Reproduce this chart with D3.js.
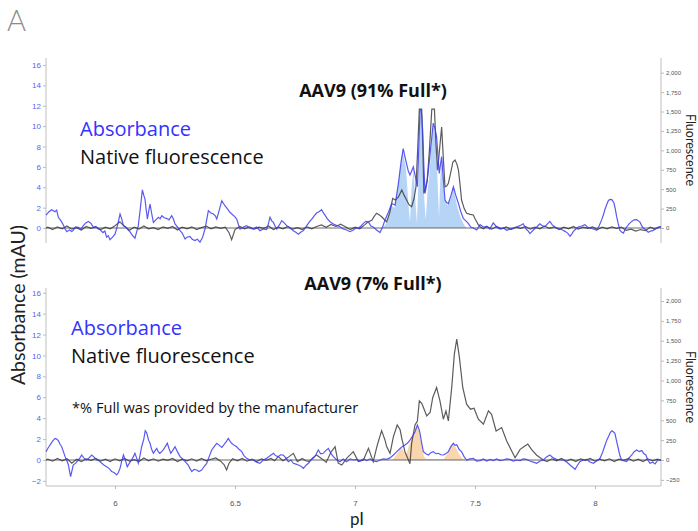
<!DOCTYPE html>
<html>
<head>
<meta charset="utf-8">
<script src="https://cdn.jsdelivr.net/npm/d3@7/dist/d3.min.js"></script>
<style>
  body { margin: 0; background: #fff; }
  svg text { font-family: "Liberation Sans", Arial, sans-serif; }
</style>
</head>
<body>
<div class="chart"></div>
<script>
// ---- data: [pI, value] pairs ----
// top panel, absorbance (mAU)
const topAbs = [[5.7125,1.27],[5.725,1.6],[5.736,1.8],[5.75,1.6],[5.757,1.75],[5.764,1.05],[5.775,0.7],[5.785,0.3],[5.792,-0.1],[5.799,-0.36],[5.81,-0.2],[5.82,-0.35],[5.826,-0.23],[5.835,0.1],[5.847,0.07],[5.857,-0.15],[5.868,0.23],[5.878,0.5],[5.889,0.65],[5.9,0.45],[5.91,0.07],[5.92,0.15],[5.93,-0.1],[5.937,-0.16],[5.95,-0.45],[5.958,-0.3],[5.965,-0.9],[5.972,-0.75],[5.979,-1.14],[5.99,-0.9],[6.0,-0.6],[6.01,0.2],[6.021,1.37],[6.028,0.9],[6.035,0.23],[6.045,0.1],[6.055,-0.2],[6.062,-0.36],[6.072,-0.7],[6.083,-1.0],[6.09,-0.4],[6.097,0.23],[6.105,1.8],[6.114,3.75],[6.12,3.2],[6.125,2.84],[6.13,1.8],[6.135,0.88],[6.14,1.6],[6.146,2.35],[6.153,1.4],[6.16,0.55],[6.17,0.8],[6.181,1.05],[6.188,0.9],[6.195,1.2],[6.205,1.0],[6.215,0.95],[6.225,0.8],[6.236,1.2],[6.243,0.9],[6.25,0.4],[6.26,0.1],[6.271,-0.26],[6.28,-0.5],[6.292,-1.08],[6.3,-0.9],[6.312,-0.82],[6.322,-1.1],[6.333,-1.24],[6.343,-1.1],[6.354,-1.4],[6.365,-0.9],[6.375,-0.1],[6.382,0.8],[6.389,1.7],[6.398,1.5],[6.41,1.37],[6.418,1.2],[6.424,0.88],[6.435,1.8],[6.445,2.68],[6.452,2.4],[6.458,2.19],[6.468,1.9],[6.479,1.54],[6.49,1.3],[6.5,1.1],[6.507,0.88],[6.515,0.3],[6.521,-0.1],[6.535,0.1],[6.549,0.23],[6.56,0.0],[6.576,-0.1],[6.59,0.1],[6.604,-0.26],[6.618,-0.1],[6.632,-0.16],[6.64,0.5],[6.646,1.05],[6.653,0.7],[6.66,0.55],[6.667,0.2],[6.674,-0.1],[6.685,0.3],[6.695,0.72],[6.705,0.5],[6.715,0.23],[6.73,0.0],[6.743,-0.26],[6.755,-0.45],[6.764,-0.62],[6.775,-0.4],[6.785,-0.26],[6.792,0.0],[6.799,0.23],[6.81,0.6],[6.82,0.88],[6.83,1.2],[6.84,1.47],[6.85,1.6],[6.861,1.8],[6.868,1.5],[6.875,1.27],[6.885,0.9],[6.896,0.62],[6.91,0.4],[6.924,0.23],[6.938,0.13],[6.951,-0.1],[6.965,-0.2],[6.979,-0.36],[6.993,-0.2],[7.004,0.0],[7.014,-0.03],[7.025,0.2],[7.035,0.46],[7.045,0.65],[7.056,0.6],[7.066,0.2],[7.076,0.1],[7.09,-0.2],[7.104,-0.45],[7.115,0.1],[7.125,0.78],[7.14,1.6],[7.153,2.4],[7.167,2.25],[7.181,4.4],[7.192,6.5],[7.201,7.8],[7.208,7.0],[7.215,6.3],[7.222,5.6],[7.229,5.2],[7.236,5.6],[7.243,6.0],[7.252,5.0],[7.26,4.05],[7.266,8.0],[7.271,11.6],[7.276,11.6],[7.282,9.6],[7.287,6.0],[7.292,3.4],[7.3,4.5],[7.306,5.7],[7.316,8.0],[7.326,10.3],[7.333,9.8],[7.34,8.95],[7.346,7.0],[7.351,5.36],[7.356,6.2],[7.361,7.0],[7.368,4.8],[7.375,2.75],[7.382,2.5],[7.389,2.4],[7.4,3.2],[7.41,4.05],[7.42,3.2],[7.431,2.4],[7.441,1.6],[7.451,0.95],[7.462,0.7],[7.472,0.46],[7.482,0.1],[7.493,0.0],[7.507,-0.2],[7.521,0.33],[7.535,0.1],[7.549,0.15],[7.562,-0.1],[7.576,0.5],[7.59,0.1],[7.604,-0.1],[7.618,0.0],[7.632,-0.23],[7.646,-0.1],[7.66,0.0],[7.674,0.1],[7.687,0.23],[7.701,0.42],[7.708,0.1],[7.715,-0.15],[7.722,-0.3],[7.729,-0.55],[7.743,-0.2],[7.757,0.1],[7.77,0.42],[7.781,0.2],[7.792,0.15],[7.802,0.4],[7.812,0.65],[7.822,0.3],[7.833,0.1],[7.844,0.0],[7.854,-0.1],[7.865,-0.2],[7.875,-0.33],[7.886,-0.5],[7.896,-0.82],[7.903,-0.6],[7.91,-0.33],[7.92,-0.1],[7.93,0.1],[7.944,0.2],[7.958,0.33],[7.968,0.1],[7.979,0.0],[7.993,-0.1],[8.007,-0.23],[8.017,0.2],[8.028,0.82],[8.035,1.3],[8.042,1.86],[8.049,2.3],[8.056,2.7],[8.063,2.8],[8.07,2.78],[8.079,2.45],[8.085,1.8],[8.09,1.14],[8.097,0.4],[8.104,-0.23],[8.111,-0.4],[8.118,-0.5],[8.125,-0.2],[8.132,0.1],[8.142,0.4],[8.153,0.65],[8.163,0.8],[8.174,0.82],[8.181,0.7],[8.188,0.55],[8.195,0.2],[8.201,0.0],[8.212,-0.2],[8.222,-0.42],[8.232,-0.3],[8.243,-0.23],[8.253,-0.05],[8.264,0.1],[8.275,0.15]];

// top panel, native fluorescence (right axis units)
const topFluor = [[5.7125,0],[5.72,10],[5.74,-20],[5.76,15],[5.78,-10],[5.8,25],[5.82,-15],[5.84,5],[5.86,-25],[5.88,20],[5.9,-5],[5.92,15],[5.94,-20],[5.96,10],[5.98,-10],[6.0,30],[6.02,80],[6.04,20],[6.06,-30],[6.08,10],[6.1,-15],[6.12,25],[6.14,-10],[6.16,5],[6.18,-20],[6.2,15],[6.22,-5],[6.24,20],[6.26,-25],[6.28,10],[6.3,-10],[6.32,15],[6.34,-20],[6.36,5],[6.38,25],[6.4,-10],[6.42,15],[6.44,-5],[6.46,10],[6.475,-60],[6.486,-150],[6.5,-20],[6.52,20],[6.54,-10],[6.56,15],[6.58,-15],[6.6,10],[6.62,-5],[6.64,25],[6.66,-20],[6.68,10],[6.7,-10],[6.72,20],[6.74,-15],[6.76,5],[6.78,-20],[6.8,15],[6.82,-10],[6.84,20],[6.86,40],[6.88,10],[6.9,45],[6.92,20],[6.94,50],[6.96,15],[6.98,-20],[7.0,10],[7.02,-10],[7.04,40],[7.055,80],[7.07,100],[7.08,150],[7.09,190],[7.1,170],[7.111,145],[7.122,110],[7.132,80],[7.145,200],[7.157,380],[7.168,360],[7.181,400],[7.195,490],[7.205,420],[7.215,360],[7.225,300],[7.236,275],[7.246,380],[7.254,530],[7.261,1000],[7.268,1530],[7.278,1530],[7.283,1000],[7.287,446],[7.294,520],[7.301,620],[7.31,1000],[7.32,1530],[7.331,1530],[7.337,1100],[7.344,745],[7.352,1000],[7.361,1300],[7.368,900],[7.375,530],[7.382,540],[7.389,575],[7.398,700],[7.408,850],[7.417,875],[7.425,820],[7.431,745],[7.438,550],[7.444,360],[7.455,250],[7.465,190],[7.48,175],[7.493,167],[7.5,120],[7.507,80],[7.514,40],[7.521,17],[7.535,-10],[7.55,20],[7.57,-15],[7.59,20],[7.61,-10],[7.63,15],[7.65,-20],[7.67,10],[7.69,-5],[7.71,20],[7.73,-15],[7.75,10],[7.77,-10],[7.79,25],[7.81,-5],[7.83,15],[7.85,-20],[7.87,10],[7.89,-10],[7.91,20],[7.93,-15],[7.95,10],[7.97,-5],[7.99,15],[8.01,-20],[8.03,10],[8.05,-10],[8.07,15],[8.09,-5],[8.11,10],[8.13,-30],[8.15,-15],[8.17,-40],[8.19,-20],[8.21,-35],[8.23,10],[8.25,-15],[8.275,20]];

// top panel, fitted peak envelope (light blue fill, mAU)
const topFill = [[7.115,0],[7.135,0.6],[7.15,2.2],[7.165,2.0],[7.18,4.2],[7.198,7.6],[7.212,6.0],[7.222,2.5],[7.229,0.6],[7.236,4.0],[7.244,5.8],[7.252,2.5],[7.258,0.5],[7.265,5],[7.272,11.6],[7.28,9.5],[7.288,3],[7.295,0.8],[7.302,3.5],[7.31,5.2],[7.318,8],[7.326,10.2],[7.336,9],[7.345,4],[7.35,1.0],[7.356,5.2],[7.362,6.8],[7.372,3],[7.385,2.2],[7.398,2.8],[7.41,4.0],[7.425,2.2],[7.44,1.0],[7.455,0.3],[7.465,0]];

// bottom panel, absorbance (mAU)
const botAbs = [[5.7125,0.8],[5.72,1.1],[5.729,1.43],[5.74,1.8],[5.75,2.07],[5.757,2.0],[5.764,1.85],[5.771,1.5],[5.778,1.27],[5.785,0.8],[5.792,0.32],[5.8,-0.1],[5.806,-0.48],[5.81,-1.0],[5.815,-1.6],[5.82,-1.1],[5.826,-0.48],[5.836,-0.3],[5.847,0.0],[5.854,0.2],[5.861,0.48],[5.87,0.2],[5.882,0.0],[5.892,0.2],[5.903,0.48],[5.912,0.3],[5.924,0.0],[5.935,-0.1],[5.945,-0.32],[5.955,-0.5],[5.965,-0.64],[5.975,-0.8],[5.986,-1.1],[5.996,-1.2],[6.007,-1.43],[6.014,-1.2],[6.021,-0.8],[6.028,-0.1],[6.035,0.48],[6.043,0.0],[6.051,-0.64],[6.06,-0.3],[6.069,0.0],[6.076,0.3],[6.083,0.64],[6.09,0.2],[6.097,-0.3],[6.104,0.4],[6.111,1.27],[6.12,2.0],[6.126,2.8],[6.132,2.6],[6.14,1.9],[6.146,1.6],[6.153,1.0],[6.16,0.64],[6.167,0.9],[6.174,1.1],[6.18,0.8],[6.187,0.64],[6.194,0.8],[6.201,0.96],[6.21,1.3],[6.218,1.6],[6.225,1.1],[6.232,0.64],[6.24,0.9],[6.25,1.27],[6.26,0.8],[6.271,0.32],[6.282,0.1],[6.292,-0.15],[6.298,-0.3],[6.305,-0.48],[6.312,-0.8],[6.32,-1.1],[6.33,-0.9],[6.34,-0.96],[6.35,-1.1],[6.361,-0.96],[6.372,-0.6],[6.382,-0.32],[6.392,0.3],[6.403,0.96],[6.414,1.3],[6.424,1.6],[6.435,1.4],[6.445,1.2],[6.452,1.4],[6.458,1.6],[6.465,1.8],[6.472,2.07],[6.479,1.8],[6.486,1.6],[6.497,1.4],[6.507,1.27],[6.518,1.0],[6.528,0.8],[6.538,0.4],[6.549,0.16],[6.562,0.0],[6.576,0.0],[6.59,-0.2],[6.604,-0.32],[6.618,0.0],[6.632,0.16],[6.646,0.4],[6.66,0.64],[6.67,0.4],[6.68,0.32],[6.69,0.5],[6.701,0.48],[6.712,0.2],[6.722,-0.16],[6.733,0.0],[6.743,-0.32],[6.754,-0.4],[6.764,-0.48],[6.775,-0.6],[6.785,-0.8],[6.796,-0.5],[6.806,-0.32],[6.816,0.0],[6.826,0.16],[6.837,0.5],[6.847,0.96],[6.857,0.6],[6.868,0.64],[6.878,0.9],[6.889,1.1],[6.9,0.6],[6.91,0.32],[6.924,0.0],[6.937,-0.16],[6.951,0.1],[6.965,-0.16],[6.98,0.1],[6.993,0.0],[7.006,0.06],[7.02,-0.1],[7.035,0.1],[7.049,-0.06],[7.063,0.1],[7.076,-0.1],[7.09,-0.16],[7.104,0.0],[7.118,0.1],[7.132,0.06],[7.146,0.2],[7.16,0.48],[7.174,0.8],[7.188,1.1],[7.198,1.3],[7.208,1.43],[7.218,1.6],[7.229,1.9],[7.24,2.3],[7.25,2.7],[7.26,3.35],[7.266,3.0],[7.271,2.55],[7.278,1.6],[7.285,0.8],[7.295,0.6],[7.306,0.48],[7.316,0.7],[7.326,0.8],[7.337,0.6],[7.347,0.64],[7.358,0.5],[7.368,0.48],[7.378,0.6],[7.389,0.8],[7.4,1.3],[7.41,1.6],[7.417,1.4],[7.424,1.45],[7.434,1.0],[7.444,0.8],[7.455,0.3],[7.465,0.0],[7.479,0.1],[7.493,0.16],[7.507,-0.1],[7.521,-0.06],[7.535,0.1],[7.549,-0.1],[7.563,0.06],[7.576,-0.06],[7.59,0.1],[7.604,-0.06],[7.618,0.0],[7.632,0.1],[7.646,0.06],[7.66,-0.1],[7.674,0.0],[7.688,-0.06],[7.701,0.1],[7.715,0.06],[7.729,-0.1],[7.743,-0.2],[7.757,-0.32],[7.771,-0.1],[7.785,0.0],[7.798,0.3],[7.812,0.48],[7.826,0.2],[7.84,0.06],[7.854,0.0],[7.868,0.0],[7.882,-0.2],[7.896,-0.48],[7.907,-0.7],[7.917,-0.9],[7.927,-0.5],[7.937,-0.16],[7.951,0.0],[7.965,0.06],[7.979,-0.2],[7.993,-0.32],[8.007,-0.1],[8.021,0.16],[8.031,0.7],[8.042,1.43],[8.049,1.9],[8.056,2.23],[8.063,2.6],[8.07,2.8],[8.076,2.7],[8.083,2.55],[8.09,1.8],[8.097,1.1],[8.104,0.4],[8.111,0.0],[8.122,-0.1],[8.132,-0.16],[8.142,0.2],[8.153,0.48],[8.163,0.8],[8.174,0.96],[8.184,0.8],[8.195,0.9],[8.204,0.6],[8.212,0.48],[8.22,0.0],[8.229,-0.32],[8.24,-0.2],[8.25,-0.38],[8.262,0.0],[8.275,0.0]];

// bottom panel, native fluorescence
const botFluor = [[5.7125,0],[5.72,10],[5.74,-15],[5.76,20],[5.78,-10],[5.8,15],[5.82,-40],[5.84,10],[5.86,-20],[5.88,15],[5.9,-5],[5.92,20],[5.94,-15],[5.96,10],[5.98,-20],[6.0,15],[6.02,-10],[6.04,20],[6.06,-15],[6.08,5],[6.1,-20],[6.12,25],[6.14,-10],[6.16,15],[6.18,-15],[6.2,10],[6.22,-5],[6.24,20],[6.26,-20],[6.28,10],[6.3,-10],[6.32,15],[6.34,-15],[6.36,20],[6.38,-10],[6.4,10],[6.42,25],[6.44,-15],[6.455,-60],[6.465,-126],[6.475,-40],[6.49,15],[6.51,-10],[6.53,20],[6.55,-15],[6.57,10],[6.59,-20],[6.61,15],[6.63,-5],[6.65,20],[6.665,-10],[6.68,42],[6.7,-10],[6.72,30],[6.743,84],[6.76,-20],[6.78,20],[6.795,-10],[6.81,-20],[6.825,30],[6.84,63],[6.86,20],[6.88,-30],[6.9,100],[6.917,168],[6.93,-40],[6.945,-63],[6.965,21],[6.993,105],[7.014,-20],[7.035,0],[7.056,147],[7.076,-21],[7.093,189],[7.111,370],[7.125,250],[7.132,168],[7.146,84],[7.16,294],[7.176,441],[7.188,380],[7.195,273],[7.208,105],[7.22,20],[7.229,-46],[7.236,210],[7.25,441],[7.26,490],[7.268,744],[7.278,714],[7.285,660],[7.299,555],[7.313,597],[7.324,786],[7.34,912],[7.354,744],[7.368,513],[7.379,618],[7.389,492],[7.403,912],[7.414,1332],[7.424,1521],[7.435,1290],[7.449,912],[7.465,702],[7.481,639],[7.496,651],[7.514,513],[7.535,450],[7.556,618],[7.569,575],[7.588,365],[7.611,408],[7.632,240],[7.653,113],[7.667,29],[7.688,134],[7.708,176],[7.72,200],[7.736,130],[7.757,60],[7.785,0],[7.8,-20],[7.82,15],[7.84,-10],[7.86,20],[7.88,-15],[7.9,10],[7.92,-20],[7.94,15],[7.96,-5],[7.98,20],[8.0,-15],[8.02,10],[8.04,-10],[8.06,15],[8.08,-20],[8.1,10],[8.12,-5],[8.14,20],[8.16,-15],[8.18,10],[8.2,-20],[8.22,15],[8.24,-10],[8.26,10],[8.275,-5]];

// bottom panel, fitted peak envelope (orange fill, mAU)
const botFill = [[7.155,0],[7.17,0.4],[7.185,0.9],[7.195,1.15],[7.205,0.8],[7.215,0.6],[7.225,1.4],[7.24,2.3],[7.252,2.9],[7.26,3.3],[7.268,2.6],[7.278,1.3],[7.288,0.3],[7.298,0.1],[7.37,0.1],[7.385,0.6],[7.4,1.3],[7.41,1.55],[7.42,1.2],[7.435,0.5],[7.45,0.1],[7.46,0]];

// axis ticks and labels
const xTicks = [6, 6.5, 7, 7.5, 8];
const absTicksTop = [0, 2, 4, 6, 8, 10, 12, 14, 16];
const absTicksBot = [-2, 0, 2, 4, 6, 8, 10, 12, 14, 16];
const fluorTicksTop = [0, 250, 500, 750, 1000, 1250, 1500, 1750, 2000];
const fluorTicksBot = [-250, 0, 250, 500, 750, 1000, 1250, 1500, 1750, 2000];
const titles = ["AAV9 (91% Full*)", "AAV9 (7% Full*)"];

// colours
const BLUE = "#3c3cf0";
const DARK = "#333";
const SANS = "'Open Sans', sans-serif";

const W = 698, H = 531;
const LEFT = 46, RIGHT = 661;

const svg = d3.select(".chart").append("svg")
  .attr("width", W).attr("height", H);

// shared pI scale
const x = d3.scaleLinear().domain([5.7125, 8.275]).range([LEFT, RIGHT]);

// draw one panel
function drawPanel(p) {
  const yL = d3.scaleLinear().domain([0, 16]).range([p.zero, p.top16]);
  const yR = d3.scaleLinear().domain([0, 2000]).range([p.zero, p.top2000]);
  const g = svg.append("g");

  // vertical axis lines
  g.append("line").attr("x1", LEFT).attr("x2", LEFT)
    .attr("y1", p.axTop).attr("y2", p.axBot)
    .attr("stroke", "#d4d4d4").attr("stroke-width", 1.5);
  g.append("line").attr("x1", RIGHT).attr("x2", RIGHT)
    .attr("y1", p.axTop).attr("y2", p.axBot)
    .attr("stroke", "#d4d4d4").attr("stroke-width", 1.5);

  // left axis ticks
  const la = g.append("g").attr("transform", `translate(${LEFT},0)`)
    .call(d3.axisLeft(yL).tickValues(p.absTicks).tickSize(3).tickPadding(2)
      .tickFormat(d3.format("d")));
  la.select(".domain").remove();
  la.selectAll("line").attr("stroke", "#bbb");
  la.selectAll("text").attr("fill", "#5a64f0").style("font-size", "8px")
    .style("font-family", "Liberation Sans, Arial, sans-serif");

  // right axis ticks
  const ra = g.append("g").attr("transform", `translate(${RIGHT},0)`)
    .call(d3.axisRight(yR).tickValues(p.fluorTicks).tickSize(3).tickPadding(2)
      .tickFormat(d3.format(",")));
  ra.select(".domain").remove();
  ra.selectAll("line").attr("stroke", "#bbb");
  ra.selectAll("text").attr("fill", "#555").style("font-size", "6px")
    .style("font-family", "Liberation Sans, Arial, sans-serif");

  // fitted peak fill
  const area = d3.area().x(d => x(d[0])).y0(yL(0)).y1(d => yL(d[1]));
  g.append("path").datum(p.fill).attr("d", area)
    .attr("fill", p.fillColor).attr("opacity", 0.85);

  // zero line
  g.append("line").attr("x1", LEFT).attr("x2", RIGHT)
    .attr("y1", yL(0)).attr("y2", yL(0))
    .attr("stroke", "#444").attr("stroke-width", 0.8);

  // fluorescence trace
  const lineR = d3.line().x(d => x(d[0])).y(d => yR(d[1]));
  g.append("path").datum(p.fluor).attr("d", lineR)
    .attr("fill", "none").attr("stroke", DARK)
    .attr("stroke-width", 1.2).attr("stroke-opacity", 0.8);

  // absorbance trace
  const lineL = d3.line().x(d => x(d[0])).y(d => yL(d[1]));
  g.append("path").datum(p.abs).attr("d", lineL)
    .attr("fill", "none").attr("stroke", BLUE)
    .attr("stroke-width", 1.2).attr("stroke-opacity", 0.85);

  // panel title
  g.append("text").attr("x", 373).attr("y", p.titleY)
    .attr("text-anchor", "middle")
    .style("font-family", SANS).style("font-weight", "bold")
    .style("font-size", "18px").attr("fill", "#111")
    .text(p.title);

  // legend text
  g.append("text").attr("x", p.legX).attr("y", p.legY)
    .style("font-family", SANS).style("font-size", "20px")
    .attr("fill", "#3333ff").text("Absorbance");
  g.append("text").attr("x", p.legX).attr("y", p.legY + 28)
    .style("font-family", SANS).style("font-size", "20px")
    .attr("fill", "#111").text("Native fluorescence");

  // right axis title
  g.append("text")
    .attr("transform", `translate(686,${p.fluorY}) rotate(90)`)
    .attr("text-anchor", "middle")
    .style("font-family", "Lato, sans-serif").style("font-size", "12.5px")
    .attr("fill", "#222").text("Fluorescence");
}

drawPanel({
  zero: 228, top16: 65, top2000: 72.7, axTop: 58, axBot: 243,
  absTicks: absTicksTop, fluorTicks: fluorTicksTop,
  abs: topAbs, fluor: topFluor, fill: topFill, fillColor: "#a9cdf3",
  title: titles[0], titleY: 97, legX: 80, legY: 136, fluorY: 150
});

drawPanel({
  zero: 460, top16: 292.7, top2000: 301, axTop: 288, axBot: 486,
  absTicks: absTicksBot, fluorTicks: fluorTicksBot,
  abs: botAbs, fluor: botFluor, fill: botFill, fillColor: "#f8cf9f",
  title: titles[1], titleY: 290, legX: 71, legY: 335, fluorY: 387
});

// footnote
svg.append("text").attr("x", 72).attr("y", 413)
  .style("font-family", SANS).style("font-size", "14.6px")
  .attr("fill", "#111").text("*% Full was provided by the manufacturer");

// bottom x axis
svg.append("line").attr("x1", LEFT).attr("x2", RIGHT)
  .attr("y1", 486).attr("y2", 486)
  .attr("stroke", "#d4d4d4").attr("stroke-width", 1.5);
const xa = svg.append("g").attr("transform", "translate(0,486)")
  .call(d3.axisBottom(x).tickValues(xTicks).tickSize(3).tickPadding(11)
    .tickFormat(d3.format("")));
xa.select(".domain").remove();
xa.selectAll("line").attr("stroke", "#bbb");
xa.selectAll("text").attr("fill", "#555").style("font-size", "8px")
  .style("font-family", "Liberation Sans, Arial, sans-serif");

// axis titles
svg.append("text").attr("x", 357).attr("y", 525).attr("text-anchor", "middle")
  .style("font-family", "Lato, sans-serif").style("font-size", "17px")
  .attr("fill", "#222").text("pI");
svg.append("text").attr("transform", "translate(25,305) rotate(-90)")
  .attr("text-anchor", "middle")
  .style("font-family", "Lato, sans-serif").style("font-size", "19.5px")
  .attr("fill", "#222").text("Absorbance (mAU)");

// panel letter
svg.append("text").attr("x", 7).attr("y", 31)
  .style("font-family", "Lato, sans-serif").style("font-weight", "300")
  .style("font-size", "29px").attr("fill", "#8c8c8c").text("A");
</script>
</body>
</html>
